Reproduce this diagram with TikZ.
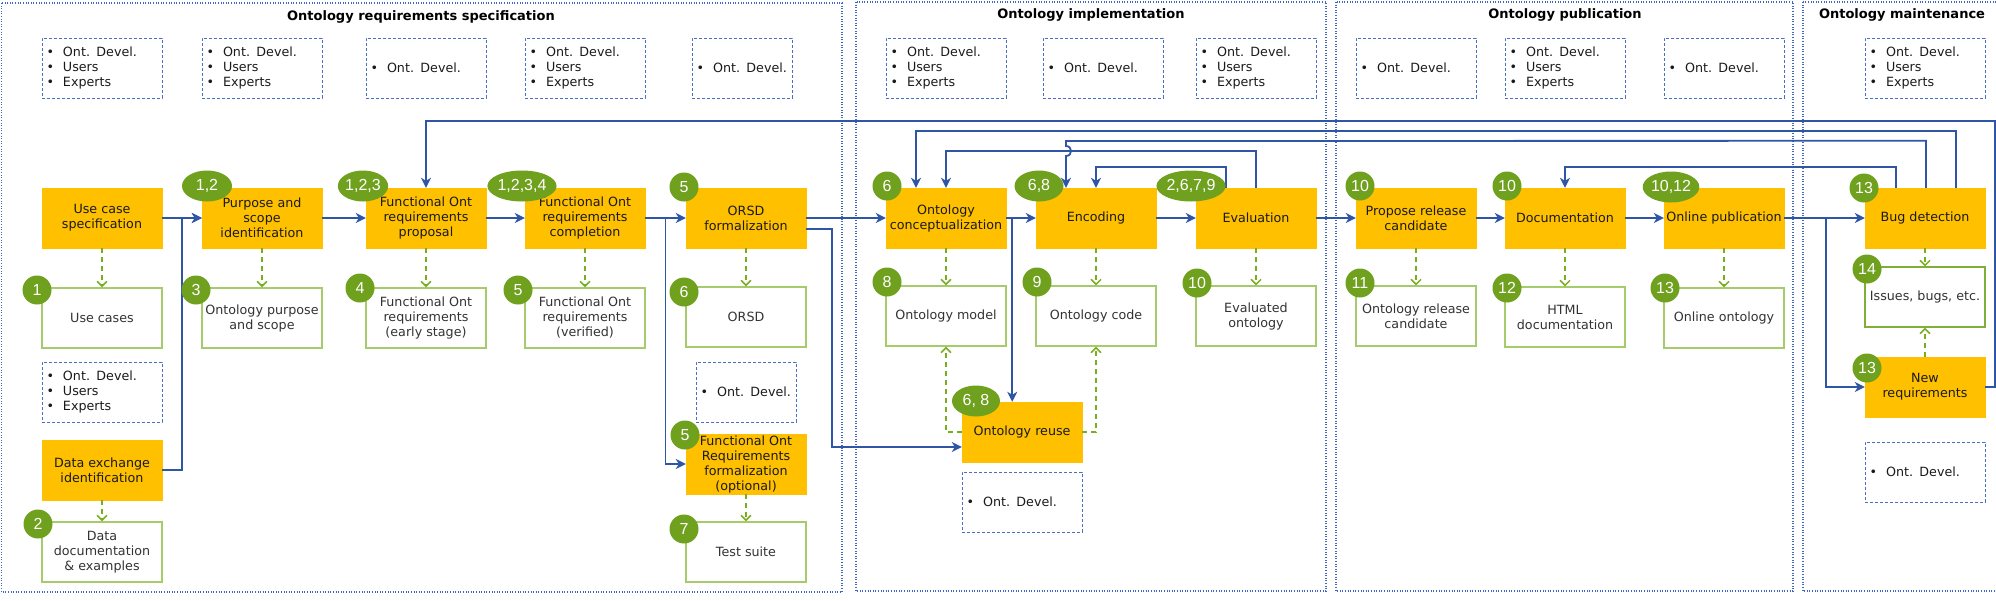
\documentclass[tikz,border=0pt]{standalone}
\usepackage{fontspec}
\setmainfont{DejaVu Sans}
\newfontfamily\badgefont{Liberation Sans}
\usetikzlibrary{arrows.meta,shapes.geometric,calc}
\definecolor{yel}{HTML}{FFC000}
\definecolor{bdg}{HTML}{6FA01E}
\definecolor{outg}{HTML}{A6CB6A}
\definecolor{issg}{HTML}{7FAF3A}
\definecolor{dgreen}{HTML}{78AE20}
\definecolor{flowc}{HTML}{2F55A5}
\definecolor{rolec}{HTML}{4A6FC2}
\definecolor{sectc}{HTML}{4266C4}
\definecolor{txta}{HTML}{1A1A1A}
\definecolor{txtb}{HTML}{333333}
\newcommand\fs{\fontsize{12.7pt}{15pt}\selectfont}
\newcommand\rolebul{\makebox[16.5pt][l]{\textbullet}}
\newcommand\rolethree{\rolebul Ont. Devel.\\\rolebul Users\\\rolebul Experts}
\newcommand\roleone{\rolebul Ont. Devel.}
\tikzset{
  proc/.style={rectangle, fill=yel, draw=yel, minimum width=120pt, minimum height=60pt, inner sep=0pt, align=center, font=\fs, text=txta},
  outb/.style={rectangle, fill=white, draw=outg, line width=1.3pt, minimum width=120pt, minimum height=60pt, inner sep=0pt, align=center, font=\fs, text=txtb},
  rolebox/.style={rectangle, draw=rolec, line width=1pt, dash pattern=on 3pt off 2pt, minimum width=120pt, minimum height=60pt, text width=111pt, inner xsep=4.5pt, inner ysep=0pt, align=left, font=\fs, text=txta},
  rolenarrow/.style={rolebox, minimum width=100pt, text width=91pt},
  badgec/.style={circle, fill=bdg, minimum size=29pt, inner sep=0pt, text=white, font=\badgefont\fontsize{16pt}{18pt}\selectfont},
  badgee/.style={ellipse, fill=bdg, minimum height=31pt, inner sep=0pt, text=white, font=\badgefont\fontsize{16pt}{18pt}\selectfont},
  flow/.style={draw=flowc, line width=1.8pt, -{Stealth[length=10pt,width=10pt,inset=3pt]}},
  gd/.style={draw=dgreen, line width=1.5pt, dash pattern=on 5pt off 4pt, -{Straight Barb[length=5pt,width=10pt]}},
  sect/.style={draw=sectc, line width=1.8pt, dash pattern=on 1pt off 1.6pt},
  stitle/.style={font=\bfseries\fontsize{13pt}{15pt}\selectfont, text=black, inner sep=0pt},
}
\begin{document}
\begin{tikzpicture}[x=1pt,y=-1pt]
\useasboundingbox (0,0) rectangle (1996,600);
% sections
\draw[sect] (1.5,3) rectangle (842,592);
\draw[sect] (856,2) rectangle (1326,591);
\draw[sect] (1336,2) rectangle (1793,591);
\draw[sect] (1803,2) rectangle (2010,591);
\node[stitle] (t1) at (421,17) {Ontology requirements specification};
\node[stitle] (t2) at (1091,15) {Ontology implementation};
\node[stitle] (t3) at (1565,15) {Ontology publication};
\node[stitle] (t4) at (1902,15) {Ontology maintenance};
% role boxes
\node[rolebox] (r1) at (102,68) {\rolethree};
\node[rolebox] (r2) at (262,68) {\rolethree};
\node[rolebox] (r3) at (426,68) {\roleone};
\node[rolebox] (r4) at (585,68) {\rolethree};
\node[rolenarrow] (r5) at (742,68) {\roleone};
\node[rolebox] (r6) at (946,68) {\rolethree};
\node[rolebox] (r7) at (1103,68) {\roleone};
\node[rolebox] (r8) at (1256,68) {\rolethree};
\node[rolebox] (r9) at (1416,68) {\roleone};
\node[rolebox] (r10) at (1565,68) {\rolethree};
\node[rolebox] (r11) at (1724,68) {\roleone};
\node[rolebox] (r12) at (1925,68) {\rolethree};
\node[rolebox] (r13) at (102,392) {\rolethree};
\node[rolenarrow] (r14) at (746,392) {\roleone};
\node[rolebox] (r15) at (1022,502) {\roleone};
\node[rolebox] (r16) at (1925,472) {\roleone};
% output boxes
\node[outb] (uc) at (102,318) {Use cases};
\node[outb] (ops) at (262,318) {Ontology purpose\\and scope};
\node[outb] (fes) at (426,318) {Functional Ont\\requirements\\(early stage)};
\node[outb] (fve) at (585,318) {Functional Ont\\requirements\\(verified)};
\node[outb] (orsd) at (746,317) {ORSD};
\node[outb] (om) at (946,316) {Ontology model};
\node[outb] (ocode) at (1096,316) {Ontology code};
\node[outb] (evo) at (1256,316) {Evaluated\\ontology};
\node[outb] (orc) at (1416,316) {Ontology release\\candidate};
\node[outb] (html) at (1565,317) {HTML\\documentation};
\node[outb] (olo) at (1724,318) {Online ontology};
\node[outb, draw=issg] (iss) at (1925,297) {Issues, bugs, etc.};
\node[outb] (ddoc) at (102,552) {Data\\documentation\\\& examples};
\node[outb] (ts) at (746,552) {Test suite};
% process boxes
\node[proc] (ucs) at (102,218) {Use case\\specification};
\node[proc] (psi) at (262,218) {Purpose and\\scope\\identification};
\node[proc] (forp) at (426,218) {Functional Ont\\requirements\\proposal};
\node[proc] (forc) at (585,218) {Functional Ont\\requirements\\completion};
\node[proc] (orsdf) at (746,218) {ORSD\\formalization};
\node[proc] (oc) at (946,218) {Ontology\\conceptualization};
\node[proc] (enc) at (1096,218) {Encoding};
\node[proc] (evl) at (1256,218) {Evaluation};
\node[proc] (prc) at (1416,218) {Propose release\\candidate};
\node[proc] (doc) at (1565,218) {Documentation};
\node[proc] (onp) at (1724,218) {Online publication};
\node[proc] (bug) at (1925,218) {Bug detection};
\node[proc] (nr) at (1925,387) {New\\requirements};
\node[proc] (dei) at (102,470) {Data exchange\\identification};
\node[proc] (forf) at (746,464) {Functional Ont\\Requirements\\formalization\\(optional)};
\node[proc] (reuse) at (1022,432) {Ontology reuse};
% main flow
\coordinate (jd) at ($(ucs.east)!0.5!(psi.west)$);
\coordinate (jf) at ($(forc.east)!0.5!(orsdf.west)$);
\coordinate (jr) at ($(oc.east)+(6,0)$);
\coordinate (jb) at ($(onp.east)+(42,0)$);
\draw[flow] (ucs) -- (psi);
\draw[flow] (dei.east) -| (jd) -- (psi.west);
\draw[flow] (psi) -- (forp);
\draw[flow] (forp) -- (forc);
\draw[flow] (forc) -- (orsdf);
\draw[flow] (forc.east) -- (jf) |- (forf.west);
\draw[flow] (orsdf) -- (oc);
\draw[flow] ([yshift=-11pt]orsdf.east) -- ++(26,0) |- ([yshift=-15pt]reuse.west);
\draw[flow] (oc) -- (enc);
\draw[flow] (oc.east) -- (jr) -- (jr |- reuse.north);
\draw[flow] (enc) -- (evl);
\draw[flow] (evl) -- (prc);
\draw[flow] (prc) -- (doc);
\draw[flow] (doc) -- (onp);
\draw[flow] (onp) -- (bug);
\draw[flow] (onp.east) -- (jb) |- (nr.west);
% feedback
\draw[flow] (nr.east) -- ++(10,0) -- ++(0,-266) -| (forp.north);
\draw[flow] ([xshift=31pt]bug.north) -- ++(0,-57) -| ([xshift=-30pt]oc.north);
\draw[flow] (evl.north) -- ++(0,-37) -| (oc.north);
\draw[flow] ([xshift=1pt]bug.north) -- ++(0,-47) -- (1066,141) -- (1066,146) .. controls (1072.7,146) and (1072.7,156) .. (1066,156) -- ([xshift=-30pt]enc.north);
\draw[flow] ([xshift=-30pt]evl.north) -- ++(0,-21) -| (enc.north);
\draw[flow] ([xshift=-29pt]bug.north) -- ++(0,-21) -| (doc.north);
% green dashed
\draw[gd] (ucs) -- (uc);
\draw[gd] (psi) -- (ops);
\draw[gd] (forp) -- (fes);
\draw[gd] (forc) -- (fve);
\draw[gd] (orsdf) -- (orsd);
\draw[gd] (oc) -- (om);
\draw[gd] (enc) -- (ocode);
\draw[gd] (evl) -- (evo);
\draw[gd] (prc) -- (orc);
\draw[gd] (doc) -- (html);
\draw[gd] (onp) -- (olo);
\draw[gd] (bug) -- (iss);
\draw[gd] (dei) -- (ddoc);
\draw[gd] (forf) -- (ts);
\draw[gd] (nr) -- (iss);
\draw[gd] (reuse.west) -| (om.south);
\draw[gd] (reuse.east) -| (ocode.south);
% badges
\node[badgec] (b1) at (37,290) {1};
\node[badgec] (b3) at (196,290) {3};
\node[badgec] (b4) at (360,288) {4};
\node[badgec] (b5a) at (518,290) {5};
\node[badgec] (b6a) at (684,292) {6};
\node[badgec] (b5b) at (684,187) {5};
\node[badgec] (b6b) at (887,186) {6};
\node[badgec] (b10a) at (1360,186) {10};
\node[badgec] (b10b) at (1507,186) {10};
\node[badgec] (b13a) at (1864,188) {13};
\node[badgec] (b8) at (887,282) {8};
\node[badgec] (b9) at (1037,282) {9};
\node[badgec] (b10c) at (1197,283) {10};
\node[badgec] (b11) at (1360,283) {11};
\node[badgec] (b12) at (1507,288) {12};
\node[badgec] (b13b) at (1665,288) {13};
\node[badgec] (b14) at (1867,269) {14};
\node[badgec] (b13c) at (1867,368) {13};
\node[badgec] (b2) at (38,524) {2};
\node[badgec] (b5c) at (685,435) {5};
\node[badgec] (b7) at (684,529) {7};
\node[badgee, minimum width=50pt] (e12) at (207,186) {1,2};
\node[badgee, minimum width=50pt] (e123) at (363,186) {1,2,3};
\node[badgee, minimum width=58pt] (e1234) at (522,186) {1,2,3,4};
\node[badgee, minimum width=49pt] (e68) at (1039,186) {6,8};
\node[badgee, minimum width=58pt] (e2679) at (1191,186) {2,6,7,9};
\node[badgee, minimum width=51pt] (e1012) at (1671,187) {10,12};
\node[badgee, minimum width=48pt] (e68b) at (976,401) {6, 8};
\end{tikzpicture}
\end{document}
